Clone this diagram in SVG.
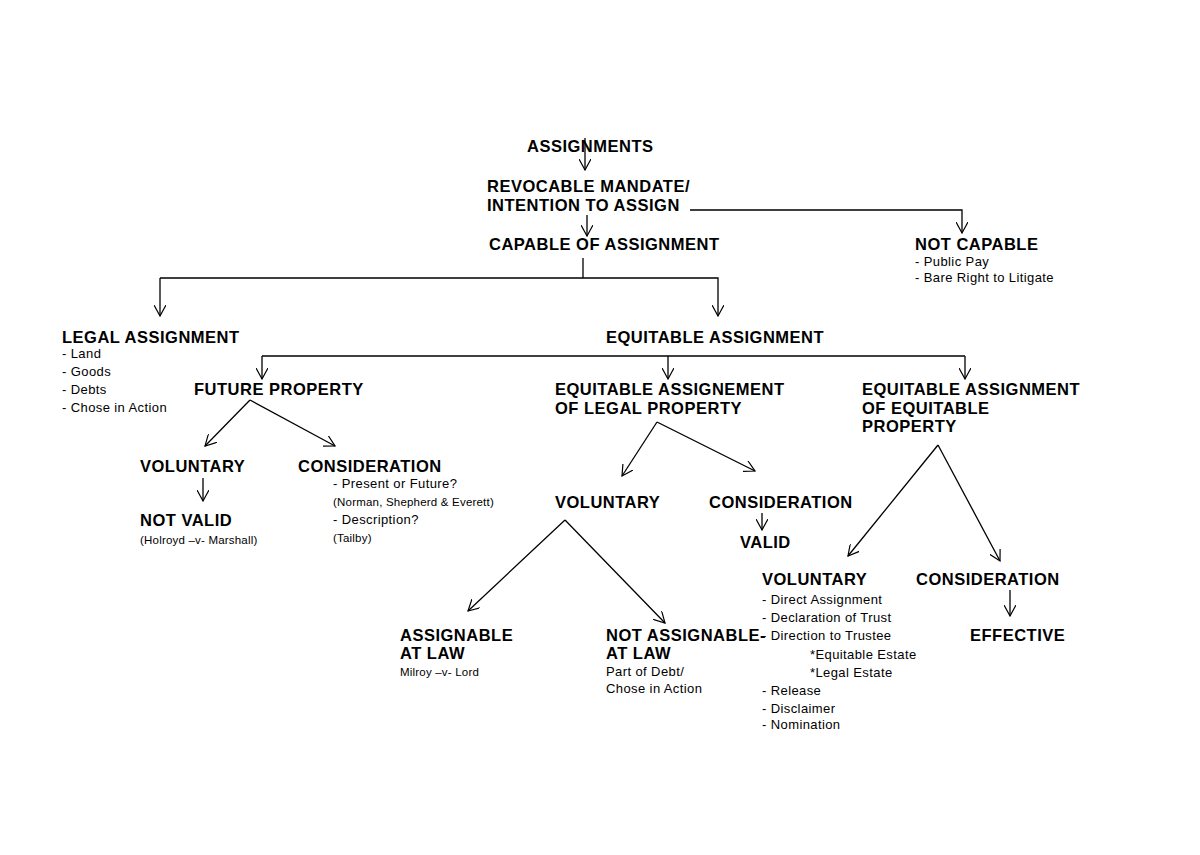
<svg xmlns="http://www.w3.org/2000/svg" width="1200" height="855" viewBox="0 0 1200 855">
<defs>
<marker id="a" viewBox="0 0 12 12" refX="11" refY="6" markerWidth="12" markerHeight="12" markerUnits="userSpaceOnUse" orient="auto">
<path d="M0,0 L11,6 L0,12" fill="none" stroke="#000" stroke-width="1.2"/>
</marker>
<style>
.h{font-family:"Liberation Sans",Arial,sans-serif;font-weight:bold;font-size:16.5px;letter-spacing:0.5px;fill:#000}
.s{font-family:"Liberation Sans",Arial,sans-serif;font-size:13px;letter-spacing:0.4px;fill:#000}
.x{font-family:"Liberation Sans",Arial,sans-serif;font-size:11.5px;letter-spacing:0.2px;fill:#000}
#c line,#c polyline{stroke:#000;stroke-width:1.3;fill:none}
.ar{marker-end:url(#a)}
</style>
</defs>
<rect width="1200" height="855" fill="#fff"/>
<g id="c">
<line class="ar" x1="585" y1="138" x2="585" y2="170"/>
<line class="ar" x1="587" y1="215" x2="587" y2="236"/>
<polyline class="ar" points="690,210 962,210 962,233"/>
<polyline points="583,258 583,278"/>
<polyline class="ar" points="160,278 160,316"/>
<polyline class="ar" points="160,278 718,278 718,316"/>
<line x1="262" y1="356" x2="965" y2="356"/>
<line class="ar" x1="262" y1="356" x2="262" y2="379"/>
<line class="ar" x1="668" y1="356" x2="668" y2="379"/>
<line class="ar" x1="965" y1="356" x2="965" y2="379"/>
<line class="ar" x1="250" y1="400" x2="205" y2="446"/>
<line class="ar" x1="250" y1="400" x2="335" y2="446"/>
<line class="ar" x1="203" y1="478" x2="203" y2="501"/>
<line class="ar" x1="657" y1="422" x2="622" y2="476"/>
<line class="ar" x1="657" y1="422" x2="755" y2="471"/>
<line class="ar" x1="762" y1="513" x2="762" y2="530"/>
<line class="ar" x1="565" y1="520" x2="468" y2="611"/>
<line class="ar" x1="565" y1="520" x2="665" y2="623"/>
<line class="ar" x1="938" y1="445" x2="848" y2="556"/>
<line class="ar" x1="938" y1="445" x2="1000" y2="561"/>
<line class="ar" x1="1010" y1="590" x2="1010" y2="616"/>
</g>
<g id="n1"><text class="h" x="527" y="152">ASSIGNMENTS</text></g>
<g id="n2"><text class="h" x="487" y="192">REVOCABLE MANDATE/</text><text class="h" x="487" y="211">INTENTION TO ASSIGN</text></g>
<g id="n3"><text class="h" x="489" y="250">CAPABLE OF ASSIGNMENT</text></g>
<g id="n4"><text class="h" x="915" y="250">NOT CAPABLE</text><text class="s" x="915" y="266">- Public Pay</text><text class="s" x="915" y="282">- Bare Right to Litigate</text></g>
<g id="n5"><text class="h" x="62" y="343">LEGAL ASSIGNMENT</text><text class="s" x="62" y="358">- Land</text><text class="s" x="62" y="376">- Goods</text><text class="s" x="62" y="394">- Debts</text><text class="s" x="62" y="412">- Chose in Action</text></g>
<g id="n6"><text class="h" x="606" y="343">EQUITABLE ASSIGNMENT</text></g>
<g id="n7"><text class="h" x="194" y="395">FUTURE PROPERTY</text></g>
<g id="n8"><text class="h" x="555" y="395">EQUITABLE ASSIGNEMENT</text><text class="h" x="555" y="414">OF LEGAL PROPERTY</text></g>
<g id="n9"><text class="h" x="862" y="395">EQUITABLE ASSIGNMENT</text><text class="h" x="862" y="414">OF EQUITABLE</text><text class="h" x="862" y="432">PROPERTY</text></g>
<g id="n10"><text class="h" x="140" y="472">VOLUNTARY</text></g>
<g id="n11"><text class="h" x="298" y="472">CONSIDERATION</text><text class="s" x="333" y="488">- Present or Future?</text><text class="x" x="333" y="506">(Norman, Shepherd &amp; Everett)</text><text class="s" x="333" y="524">- Description?</text><text class="x" x="333" y="542">(Tailby)</text></g>
<g id="n12"><text class="h" x="140" y="526">NOT VALID</text><text class="x" x="140" y="544">(Holroyd –v- Marshall)</text></g>
<g id="n13"><text class="h" x="555" y="508">VOLUNTARY</text></g>
<g id="n14"><text class="h" x="709" y="508">CONSIDERATION</text></g>
<g id="n15"><text class="h" x="740" y="548">VALID</text></g>
<g id="n16"><text class="h" x="400" y="641">ASSIGNABLE</text><text class="h" x="400" y="659">AT LAW</text><text class="x" x="400" y="676">Milroy –v- Lord</text></g>
<g id="n17"><text class="h" x="606" y="641">NOT ASSIGNABLE-</text><text class="h" x="606" y="659">AT LAW</text><text class="s" x="606" y="676">Part of Debt/</text><text class="s" x="606" y="693">Chose in Action</text></g>
<g id="n18"><text class="h" x="762" y="585">VOLUNTARY</text><text class="s" x="762" y="604">- Direct Assignment</text><text class="s" x="762" y="622">- Declaration of Trust</text><text class="s" x="762" y="640">- Direction to Trustee</text><text class="s" x="810" y="659">*Equitable Estate</text><text class="s" x="810" y="677">*Legal Estate</text><text class="s" x="762" y="695">- Release</text><text class="s" x="762" y="713">- Disclaimer</text><text class="s" x="762" y="729">- Nomination</text></g>
<g id="n19"><text class="h" x="916" y="585">CONSIDERATION</text></g>
<g id="n20"><text class="h" x="970" y="641">EFFECTIVE</text></g>
</svg>
